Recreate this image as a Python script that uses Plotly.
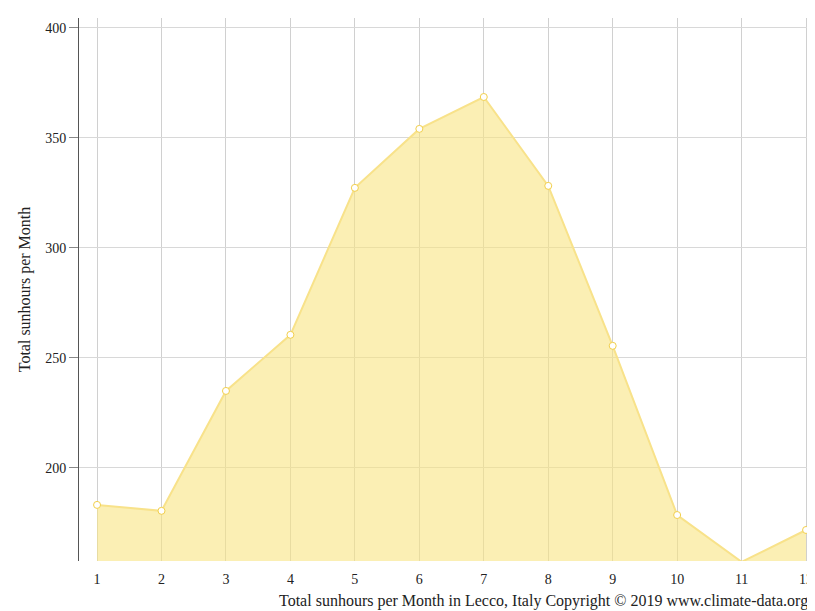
import plotly.graph_objects as go

months = list(range(1, 13))
sunhours = [183.2, 180.5, 235, 260.5, 327.3, 354.1, 368.6, 328.2, 255.5, 178.6, 157.3, 171.8]
y_ticks = [200, 250, 300, 350, 400]

fig = go.Figure(go.Scatter(
    x=months, y=sunhours, mode="lines+markers",
    fill="tozeroy", fillcolor="rgba(248,228,130,0.6)",
    line=dict(color="#f8e28a", width=2),
    marker=dict(size=7, color="white", line=dict(color="#f2cf4a", width=1)),
    cliponaxis=False,
))
font = dict(family="Liberation Serif, Times New Roman, serif", color="#222", size=14)
fig.update_layout(
    width=815, height=611, margin=dict(l=71, r=15, t=10, b=58),
    plot_bgcolor="white", paper_bgcolor="white", showlegend=False, font=font,
    xaxis=dict(range=[0.72, 12.03], tickvals=months, showgrid=True, gridcolor="#d0d0d0",
               zeroline=False, showline=False, ticks="", ticklabelstandoff=8, automargin=False),
    yaxis=dict(range=[157.7, 404.5], tickvals=y_ticks, showgrid=True, gridcolor="#d8d8d8",
               zeroline=False, showline=True, linecolor="#555", ticks="outside",
               ticklen=9, tickcolor="#888", automargin=False,
               title=dict(text="Total sunhours per Month", font=dict(size=16), standoff=10)),
    annotations=[dict(text="Total sunhours per Month in Lecco, Italy Copyright © 2019 www.climate-data.org",
                      xref="paper", yref="paper", x=(802-71)/(815-71-15), y=-40/543,
                      showarrow=False, xanchor="right", yanchor="middle", font=dict(size=16))],
)
fig.write_html("out.html")
